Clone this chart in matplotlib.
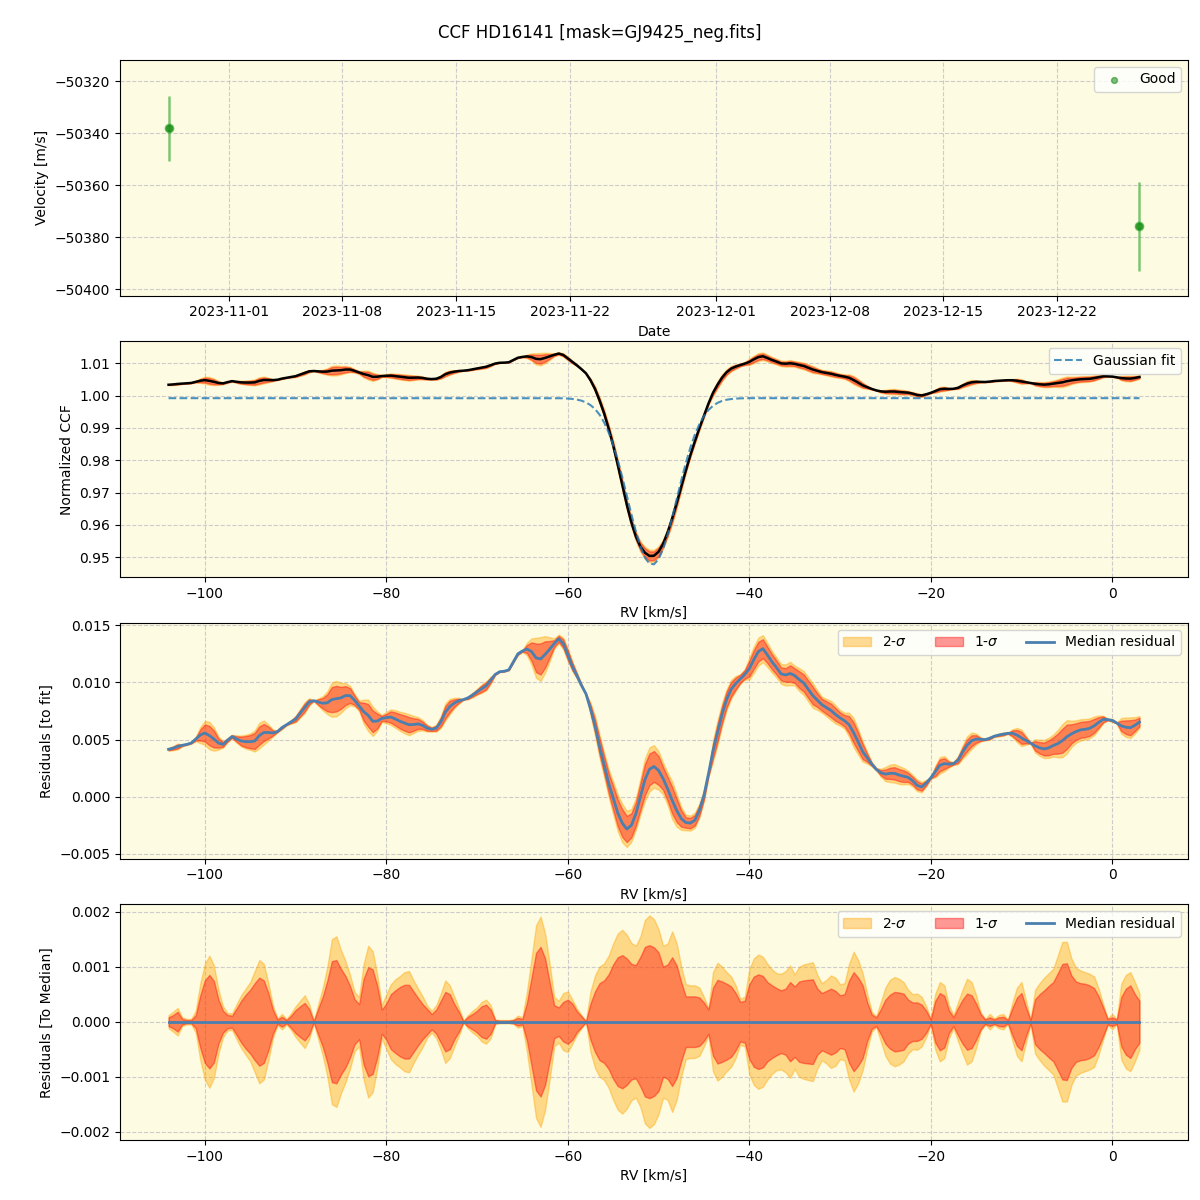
import numpy as np
import matplotlib
matplotlib.use("Agg")
import matplotlib.pyplot as plt
from datetime import datetime

# ---------------- data ----------------
obs_dates = [datetime(2023, 10, 28, 7, 0), datetime(2023, 12, 27, 2, 0)]
obs_rv = [-50338.1, -50375.7]
obs_err = [12.5, 17.1]

rv = np.linspace(-104.0, 3.0, 215)  # km/s grid, 0.5 km/s step

# Gaussian fit (normalized CCF)
gauss_base = 0.99918
gauss_core = [0.99916, 0.99913, 0.99906, 0.99895, 0.99874, 0.99841, 0.99787, 0.99704,
              0.99582, 0.99408, 0.99170, 0.98860, 0.98471, 0.98007, 0.97480, 0.96912,
              0.96337, 0.95796, 0.95333, 0.94991, 0.94802, 0.94784, 0.94940, 0.95254,
              0.95696, 0.96225, 0.96796, 0.97369, 0.97906, 0.98384, 0.98788, 0.99114,
              0.99365, 0.99551, 0.99683, 0.99773, 0.99832, 0.99869, 0.99891, 0.99904,
              0.99912, 0.99916]  # rv -61.0 ... -40.5
gauss_fit = np.array([gauss_base] * 86 + gauss_core + [gauss_base] * 87)

# median residual to fit (x 1e-3)
med_resid = np.array([
    4.15, 4.25, 4.40, 4.50, 4.58, 4.70, 5.05, 5.40, 5.58, 5.35,
    5.05, 4.70, 4.58, 4.95, 5.27, 5.05, 4.88, 4.82, 4.82, 4.88,
    5.35, 5.62, 5.62, 5.58, 5.70, 6.05, 6.30, 6.55, 6.80, 7.30,
    7.80, 8.30, 8.40, 8.28, 8.18, 8.22, 8.50, 8.58, 8.65, 8.85,
    8.85, 8.44, 7.95, 7.45, 7.12, 6.60, 6.62, 6.85, 6.92, 6.97,
    6.80, 6.60, 6.45, 6.30, 6.32, 6.37, 6.25, 6.00, 5.90, 6.00,
    6.53, 7.40, 7.90, 8.20, 8.40, 8.50, 8.65, 8.90, 9.18, 9.45,
    9.70, 10.20, 10.70, 10.94, 10.98, 11.10, 11.80, 12.50, 12.75, 12.92,
    12.70, 12.15, 12.05, 12.45, 12.90, 13.40, 13.81, 13.40, 12.40, 11.40,
    10.60, 9.75, 9.00, 7.70, 6.20, 4.40, 2.80, 1.20, -0.10, -1.40,
    -2.30, -2.82, -2.50, -1.50, 0.00, 1.50, 2.40, 2.65, 2.30, 1.60,
    0.70, -0.30, -1.20, -1.90, -2.25, -2.30, -2.05, -1.20, 0.10, 2.00,
    4.00, 5.60, 7.20, 8.50, 9.40, 9.90, 10.30, 10.70, 11.20, 12.00,
    12.70, 12.95, 12.40, 11.80, 11.30, 10.75, 10.65, 10.78, 10.60, 10.25,
    9.95, 9.40, 8.85, 8.45, 8.05, 7.80, 7.55, 7.20, 6.90, 6.65,
    6.30, 5.60, 4.80, 3.95, 3.40, 2.85, 2.40, 2.10, 1.98, 2.05,
    2.05, 1.90, 1.80, 1.70, 1.40, 1.00, 0.85, 1.20, 1.65, 2.20,
    2.75, 2.90, 2.85, 2.90, 3.20, 3.90, 4.50, 4.90, 5.05, 5.02,
    5.00, 5.12, 5.30, 5.40, 5.48, 5.55, 5.55, 5.40, 5.15, 4.93,
    4.70, 4.45, 4.28, 4.18, 4.28, 4.48, 4.65, 4.90, 5.25, 5.50,
    5.70, 5.85, 5.90, 5.98, 6.20, 6.50, 6.77, 6.75, 6.68, 6.45,
    6.20, 6.08, 6.04, 6.25, 6.54]) * 1e-3

# 2-sigma half width around median (x 1e-3)
sig2 = np.array([
    0.12, 0.18, 0.25, 0.08, 0.05, 0.05, 0.20, 0.70, 1.05, 1.20,
    1.02, 0.58, 0.28, 0.16, 0.15, 0.32, 0.48, 0.60, 0.72, 0.92,
    1.12, 1.05, 0.70, 0.30, 0.06, 0.14, 0.05, 0.15, 0.28, 0.38,
    0.48, 0.32, 0.02, 0.32, 0.62, 1.00, 1.50, 1.55, 1.30, 1.10,
    0.85, 0.54, 0.45, 1.05, 1.38, 1.28, 0.85, 0.30, 0.50, 0.68,
    0.77, 0.83, 0.90, 0.92, 0.75, 0.60, 0.46, 0.29, 0.20, 0.30,
    0.51, 0.75, 0.66, 0.45, 0.25, 0.02, 0.12, 0.20, 0.26, 0.36,
    0.40, 0.30, 0.04, 0.03, 0.03, 0.03, 0.04, 0.11, 0.08, 0.55,
    1.15, 1.75, 1.91, 1.60, 1.05, 0.45, 0.38, 0.52, 0.55, 0.40,
    0.24, 0.12, 0.01, 0.55, 0.84, 1.00, 1.06, 1.20, 1.42, 1.60,
    1.67, 1.58, 1.43, 1.38, 1.55, 1.85, 1.93, 1.86, 1.68, 1.38,
    1.42, 1.64, 1.42, 1.00, 0.68, 0.66, 0.66, 0.62, 0.45, 0.25,
    0.90, 1.07, 1.00, 0.90, 0.82, 0.66, 0.42, 0.45, 0.95, 1.15,
    1.22, 1.18, 1.05, 0.95, 0.88, 0.87, 0.92, 1.02, 0.86, 1.00,
    1.04, 1.06, 1.08, 0.85, 0.70, 0.76, 0.84, 0.80, 0.68, 0.70,
    1.05, 1.27, 1.12, 0.88, 0.50, 0.18, 0.10, 0.36, 0.62, 0.76,
    0.81, 0.78, 0.72, 0.58, 0.50, 0.51, 0.45, 0.28, 0.05, 0.51,
    0.72, 0.66, 0.30, 0.12, 0.35, 0.58, 0.78, 0.72, 0.48, 0.17,
    0.05, 0.14, 0.06, 0.12, 0.14, 0.04, 0.35, 0.62, 0.72, 0.38,
    0.04, 0.58, 0.70, 0.80, 0.88, 0.96, 1.20, 1.45, 1.45, 1.15,
    0.98, 0.93, 0.90, 0.87, 0.82, 0.60, 0.32, 0.06, 0.14, 0.05,
    0.69, 0.85, 0.90, 0.72, 0.51]) * 1e-3

# 1-sigma half width around median (x 1e-3)
sig1 = np.array([
    0.08, 0.12, 0.18, 0.05, 0.03, 0.03, 0.12, 0.48, 0.75, 0.85,
    0.74, 0.40, 0.20, 0.12, 0.11, 0.24, 0.38, 0.49, 0.58, 0.70,
    0.80, 0.75, 0.52, 0.22, 0.04, 0.09, 0.03, 0.11, 0.21, 0.28,
    0.34, 0.23, 0.01, 0.24, 0.46, 0.75, 1.10, 1.12, 0.96, 0.83,
    0.65, 0.41, 0.32, 0.78, 0.99, 0.95, 0.65, 0.22, 0.33, 0.50,
    0.57, 0.63, 0.67, 0.67, 0.55, 0.43, 0.32, 0.23, 0.14, 0.22,
    0.38, 0.54, 0.50, 0.32, 0.18, 0.01, 0.09, 0.14, 0.20, 0.28,
    0.31, 0.22, 0.03, 0.02, 0.02, 0.02, 0.03, 0.07, 0.05, 0.35,
    0.80, 1.25, 1.36, 1.15, 0.72, 0.30, 0.26, 0.36, 0.40, 0.33,
    0.19, 0.10, 0.01, 0.33, 0.55, 0.70, 0.75, 0.86, 1.04, 1.17,
    1.21, 1.15, 1.05, 1.03, 1.18, 1.36, 1.39, 1.35, 1.26, 1.00,
    1.04, 1.17, 1.02, 0.72, 0.46, 0.46, 0.46, 0.44, 0.35, 0.22,
    0.62, 0.76, 0.73, 0.69, 0.64, 0.52, 0.36, 0.38, 0.68, 0.82,
    0.86, 0.83, 0.72, 0.66, 0.61, 0.57, 0.60, 0.72, 0.64, 0.73,
    0.75, 0.76, 0.77, 0.60, 0.52, 0.56, 0.60, 0.56, 0.48, 0.50,
    0.75, 0.90, 0.80, 0.66, 0.35, 0.13, 0.08, 0.23, 0.40, 0.49,
    0.54, 0.53, 0.51, 0.40, 0.35, 0.35, 0.31, 0.20, 0.04, 0.38,
    0.52, 0.47, 0.21, 0.08, 0.25, 0.40, 0.51, 0.48, 0.33, 0.14,
    0.04, 0.08, 0.04, 0.08, 0.09, 0.03, 0.25, 0.44, 0.52, 0.26,
    0.03, 0.41, 0.50, 0.57, 0.65, 0.72, 0.88, 1.05, 1.06, 0.84,
    0.73, 0.70, 0.69, 0.66, 0.61, 0.46, 0.26, 0.05, 0.08, 0.04,
    0.45, 0.60, 0.66, 0.50, 0.38]) * 1e-3

assert len(med_resid) == len(rv) == len(sig1) == len(sig2) == len(gauss_fit)

# normalized CCF median = fit + residual
ccf_med = gauss_fit + med_resid

# ---------------- style ----------------
BG = "#fdfbe1"
GRID = dict(visible=True, linestyle="--", color="#b8b8c4", alpha=0.7, linewidth=0.8)
C2 = "orange"
C1 = "red"
A2 = 0.4
A1 = 0.4
MEDC = "#4a7fb0"

fig, axes = plt.subplots(4, 1, figsize=(12, 12), dpi=100)
fig.subplots_adjust(left=0.1, right=0.99, top=0.95, bottom=0.05, hspace=0.195)
fig.suptitle("CCF HD16141 [mask=GJ9425_neg.fits]", fontsize=12)

for ax in axes:
    ax.set_facecolor(BG)
    ax.grid(**GRID)
    ax.set_axisbelow(True)

# Panel 1: velocities
ax = axes[0]
ax.errorbar(obs_dates, obs_rv, yerr=obs_err, fmt="o", color="tab:green",
            alpha=0.6, ms=6, elinewidth=1.8, capsize=0)
ax.scatter(obs_dates, obs_rv, s=18, color="green", alpha=0.5, label="Good", zorder=3)
ax.set_ylim(-50402.4, -50311.9)
ax.set_ylabel("Velocity [m/s]")
ax.set_xlabel("Date")
ax.legend(loc="upper right")

# Panel 2: CCF
ax = axes[1]
ax.fill_between(rv, ccf_med - sig2, ccf_med + sig2, color=C2, alpha=A2)
ax.fill_between(rv, ccf_med - sig1, ccf_med + sig1, color=C1, alpha=A1)
ax.plot(rv, ccf_med, color="black", lw=1.8)
ax.plot(rv, gauss_fit, "--", color="tab:blue", alpha=0.8, lw=1.5, label="Gaussian fit")
ax.set_xlim(-109.35, 8.35)
ax.set_ylim(0.9439, 1.0167)
ax.set_ylabel("Normalized CCF")
ax.set_xlabel("RV [km/s]")
ax.legend(loc="upper right")

# Panel 3: residuals to fit
ax = axes[2]
ax.fill_between(rv, med_resid - sig2, med_resid + sig2, color=C2, alpha=A2, label=r"2-$\sigma$")
ax.fill_between(rv, med_resid - sig1, med_resid + sig1, color=C1, alpha=A1, label=r"1-$\sigma$")
ax.plot(rv, med_resid, color=MEDC, lw=2, label="Median residual")
ax.set_xlim(-109.35, 8.35)
ax.set_ylim(-0.0054, 0.0152)
ax.set_ylabel("Residuals [to fit]")
ax.set_xlabel("RV [km/s]")
ax.legend(loc="upper right", ncol=3)

# Panel 4: residuals to median
ax = axes[3]
zero = med_resid - med_resid
ax.fill_between(rv, zero - sig2, zero + sig2, color=C2, alpha=A2, label=r"2-$\sigma$")
ax.fill_between(rv, zero - sig1, zero + sig1, color=C1, alpha=A1, label=r"1-$\sigma$")
ax.plot(rv, zero, color=MEDC, lw=2, label="Median residual")
ax.set_xlim(-109.35, 8.35)
ax.set_ylim(-0.00215, 0.00213)
ax.set_ylabel("Residuals [To Median]")
ax.set_xlabel("RV [km/s]")
ax.legend(loc="upper right", ncol=3)

fig.savefig("out.png", dpi=100)
